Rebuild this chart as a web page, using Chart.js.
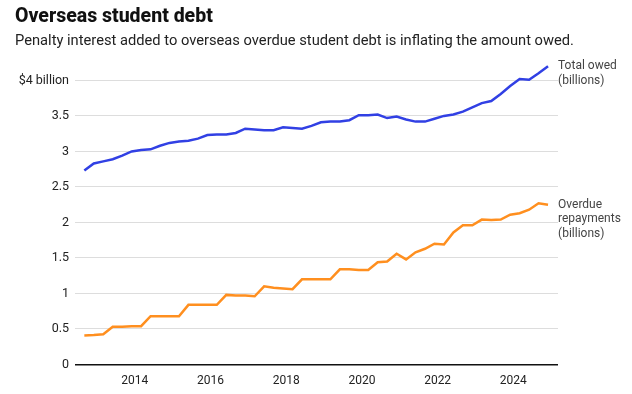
<!DOCTYPE html>
<html>
<head>
<meta charset="utf-8">
<script src="https://cdn.jsdelivr.net/npm/chart.js@4"></script>
<style>
html,body{margin:0;padding:0;background:#fff;}
#wrap{position:relative;width:632px;height:394px;}
canvas{position:absolute;left:0;top:0;}
</style>
</head>
<body>
<div id="wrap"><canvas id="c" width="632" height="394"></canvas></div>
<script>
const title = 'Overseas student debt';
const subtitle = 'Penalty interest added to overseas overdue student debt is inflating the amount owed.';

// Quarter-end months
const quarters = [
  '2012-09','2012-12',
  '2013-03','2013-06','2013-09','2013-12',
  '2014-03','2014-06','2014-09','2014-12',
  '2015-03','2015-06','2015-09','2015-12',
  '2016-03','2016-06','2016-09','2016-12',
  '2017-03','2017-06','2017-09','2017-12',
  '2018-03','2018-06','2018-09','2018-12',
  '2019-03','2019-06','2019-09','2019-12',
  '2020-03','2020-06','2020-09','2020-12',
  '2021-03','2021-06','2021-09','2021-12',
  '2022-03','2022-06','2022-09','2022-12',
  '2023-03','2023-06','2023-09','2023-12',
  '2024-03','2024-06','2024-09','2024-12'
];

const totalOwed = [
  2.73,2.83,
  2.86,2.89,2.94,3.00,
  3.02,3.03,3.08,3.12,
  3.14,3.15,3.18,3.23,
  3.24,3.24,3.26,3.32,
  3.31,3.30,3.30,3.34,
  3.33,3.32,3.36,3.41,
  3.42,3.42,3.44,3.51,
  3.51,3.52,3.47,3.49,
  3.45,3.42,3.42,3.46,
  3.50,3.52,3.56,3.62,
  3.68,3.71,3.81,3.92,
  4.02,4.01,4.10,4.20
];

const overdue = [
  0.41,0.415,
  0.425,0.53,0.533,0.54,
  0.54,0.68,0.68,0.68,
  0.68,0.84,0.84,0.84,
  0.84,0.98,0.97,0.97,
  0.96,1.10,1.08,1.07,
  1.06,1.20,1.20,1.20,
  1.20,1.34,1.34,1.33,
  1.33,1.44,1.45,1.56,
  1.48,1.58,1.63,1.70,
  1.69,1.86,1.96,1.96,
  2.04,2.035,2.04,2.11,
  2.13,2.18,2.27,2.25
];

const yTicks = [0,0.5,1,1.5,2,2.5,3,3.5,4];
const xTicks = [2014,2016,2018,2020,2022,2024];
const seriesLabels = [['Total owed','(billions)'],['Overdue','repayments','(billions)']];

function qx(q){ const [y,m] = q.split('-').map(Number); return y + (m-1)/12; }
function pts(vals){ return quarters.map((q,i)=>({x:qx(q), y:vals[i]})); }

const FONT = 'Roboto, "Liberation Sans", sans-serif';

const textPlugin = {
  id:'texts',
  afterDraw(chart){
    const ctx = chart.ctx;
    ctx.save();
    ctx.textBaseline = 'alphabetic';
    ctx.textAlign = 'left';
    ctx.fillStyle = '#111';
    ctx.font = '800 19.5px ' + FONT;
    ctx.fillText(title, 15, 22);
    ctx.fillStyle = '#222';
    ctx.font = '400 14.7px ' + FONT;
    ctx.fillText(subtitle, 15, 44.5);
    // series end labels
    ctx.fillStyle = '#444';
    ctx.font = '400 12px ' + FONT;
    ctx.textBaseline = 'middle';
    chart.data.datasets.forEach((ds, di) => {
      const meta = chart.getDatasetMeta(di);
      const last = meta.data[meta.data.length-1];
      seriesLabels[di].forEach((line, li) => {
        ctx.fillText(line, last.x + 10, last.y + li*14.5);
      });
    });
    ctx.restore();
  }
};

new Chart(document.getElementById('c'), {
  type:'line',
  data:{
    datasets:[
      {label:'Total owed (billions)', data:pts(totalOwed), borderColor:'#3140e4', borderWidth:2.5, pointRadius:0, tension:0, fill:false},
      {label:'Overdue repayments (billions)', data:pts(overdue), borderColor:'#ff8f1f', borderWidth:2.5, pointRadius:0, tension:0, fill:false}
    ]
  },
  options:{
    responsive:false,
    animation:false,
    events:[],
    layout:{padding:{top:52,right:74,bottom:0,left:0}},
    plugins:{legend:{display:false}, tooltip:{enabled:false}, title:{display:false}},
    scales:{
      x:{
        type:'linear', min:2012.42, max:2025.18,
        grid:{display:false, drawTicks:false},
        border:{display:false},
        afterBuildTicks(s){ s.ticks = xTicks.map(v=>({value:v})); },
        afterFit(s){ s.height = 29.5; },
        ticks:{padding:9, color:'#222', font:{family:FONT, size:12}, maxRotation:0, callback:v=>String(v)}
      },
      y:{
        min:0, max:4.4,
        grid:{drawTicks:false, color:ctx => ctx.tick && ctx.tick.value === 0 ? '#111' : '#dddddd', lineWidth:ctx => ctx.tick && ctx.tick.value === 0 ? 1.5 : 1},
        border:{display:false},
        afterBuildTicks(s){ s.ticks = yTicks.map(v=>({value:v})); },
        afterFit(s){ s.width = 75; },
        ticks:{padding:6, color:'#222', font:{family:FONT, size:12.5}, callback:v => v === 4 ? '$4 billion' : String(v)}
      }
    }
  },
  plugins:[textPlugin]
});
</script>
</body>
</html>
